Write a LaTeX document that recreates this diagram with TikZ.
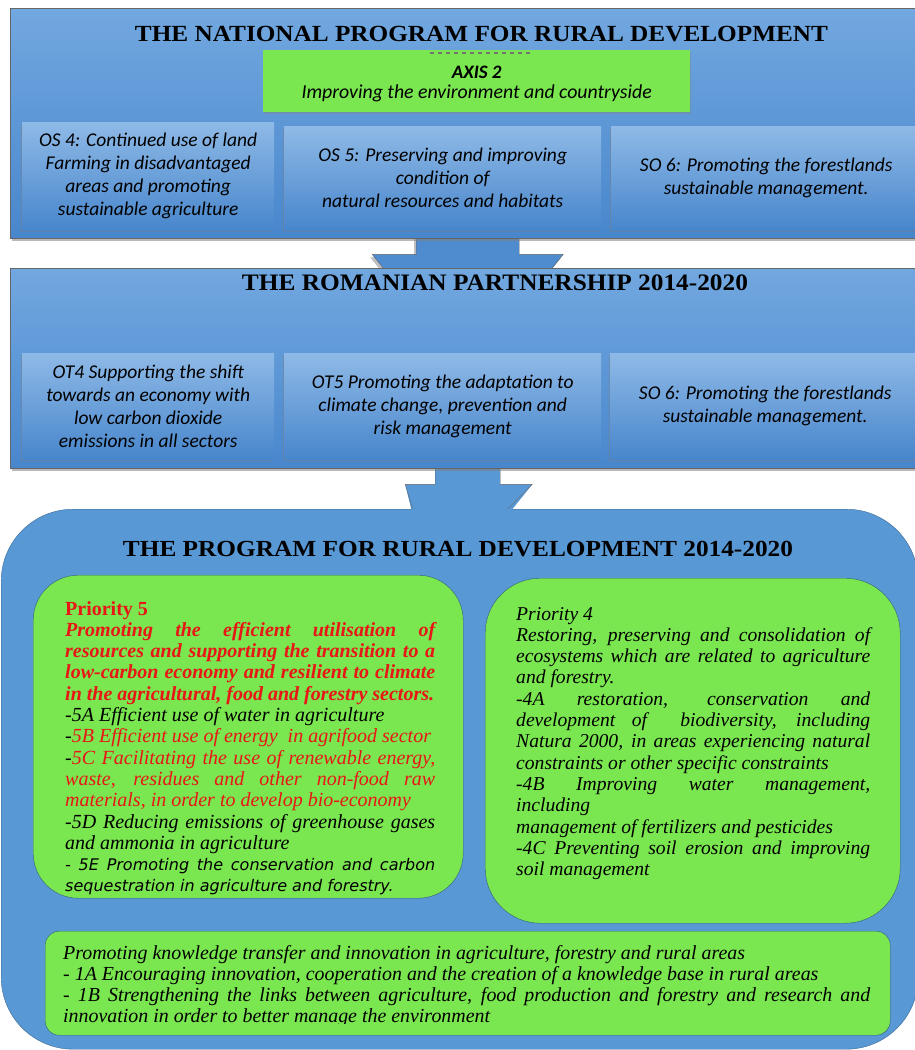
\documentclass[tikz,border=0pt]{standalone}
\usepackage{fontspec}
\setmainfont{Liberation Serif}
\newfontfamily\calfont{Carlito}
\newfontfamily\gothfont{DejaVu Sans}
\usepackage{graphicx}
\usetikzlibrary{
    positioning,
    calc,
    shadows
}
\pgfdeclarelayer{bottom}
\pgfdeclarelayer{back}
\pgfsetlayers{bottom,back,main}

\definecolor{paneltop}{RGB}{114,168,224}
\definecolor{panelbot}{RGB}{72,134,204}
\definecolor{bigblue}{RGB}{88,152,212}
\definecolor{leaf}{RGB}{122,230,80}
\definecolor{prio}{RGB}{232,22,22}

\tikzset{
    panel/.style={
        anchor=north west,
        inner sep=0pt,
        draw=black!60,
        top color=paneltop,
        bottom color=panelbot,
        drop shadow={shadow xshift=2pt, shadow yshift=-3pt, opacity=0.55}
    },
    goal/.style={
        anchor=north west,
        inner sep=2pt,
        top color=paneltop!80!white,
        bottom color=panelbot,
        drop shadow={shadow xshift=-1pt, shadow yshift=-2pt, opacity=0.45},
        font=\calfont\itshape\fontsize{19.5}{23}\selectfont,
        align=center
    },
    heading/.style={
        anchor=base,
        inner sep=0pt,
        font=\bfseries
    },
    leafbox/.style={
        anchor=north west,
        inner sep=0pt,
        fill=leaf,
        draw=bigblue!60!black
    },
    prose/.style={
        anchor=base west,
        inner sep=0pt,
        align=justify,
        font=\itshape\fontsize{20}{21.3}\selectfont
    }
}

\begin{document}
\begin{tikzpicture}[x=1pt, y=-1pt]

    \useasboundingbox (0,0) rectangle (915,1050);

    % National program
    \node[panel, minimum width=915, minimum height=230] (npr) at (10,8) {};
    \node[heading] (nprtitle) at (481.5,41)
        {\resizebox{693pt}{15.3pt}{THE NATIONAL PROGRAM FOR RURAL DEVELOPMENT}};
    \node[leafbox, draw=none, minimum width=427, minimum height=62,
          drop shadow={shadow xshift=1pt, shadow yshift=-2pt, opacity=0.4}] (axis) at (263,50) {};
    \draw[black!55, line width=1.1pt, dash pattern=on 4pt off 4pt]
        ($(axis.north)+(-47,3)$) -- ++(102,0);
    \node[font=\calfont\itshape\bfseries\fontsize{19}{22}\selectfont] (axistitle)
        at ($(axis.center)+(0,-9)$) {AXIS 2};
    \node[font=\calfont\itshape\fontsize{19.8}{22}\selectfont] (axistext)
        at ($(axis.center)+(0,12)$) {Improving the environment and countryside};

    \node[goal, minimum width=252, minimum height=108] (os4) at (22,122)
        {OS 4: Continued use of land\\Farming in disadvantaged\\areas and promoting\\sustainable agriculture};
    \node[goal, minimum width=317, minimum height=104] (os5) at (284,126)
        {OS 5: Preserving and improving\\condition of\\natural resources and habitats};
    \node[goal, minimum width=310, minimum height=104] (so6a) at (611,126)
        {SO 6: Promoting the forestlands\\sustainable management.};

    % Romanian partnership
    \node[panel, minimum width=915, minimum height=200] (rp) at (10,268) {};
    \node[heading] (rptitle) at (495,290.7)
        {\resizebox{506pt}{15.7pt}{THE ROMANIAN PARTNERSHIP 2014-2020}};

    \node[goal, minimum width=252, minimum height=106] (ot4) at (22,353)
        {OT4 Supporting the shift\\towards an economy with\\low carbon dioxide\\emissions in all sectors};
    \node[goal, minimum width=317, minimum height=106] (ot5) at (284,353)
        {OT5 Promoting the adaptation to\\climate change, prevention and\\risk management};
    \node[goal, minimum width=310, minimum height=106] (so6b) at (610,353)
        {SO 6: Promoting the forestlands\\sustainable management.};

    % Program 2014-2020
    \begin{pgfonlayer}{bottom}
        \node[anchor=north west, inner sep=0pt, fill=bigblue, draw=bigblue!70!black,
              rounded corners=72pt, minimum width=917, minimum height=540] (pdr) at (1,509) {};
    \end{pgfonlayer}
    \node[heading] (pdrtitle) at (458,556)
        {\resizebox{670pt}{15.3pt}{THE PROGRAM FOR RURAL DEVELOPMENT 2014-2020}};

    \node[leafbox, rounded corners=45pt, minimum width=430, minimum height=323] (p5) at (33,575) {};
    \node[leafbox, rounded corners=55pt, minimum width=415, minimum height=345] (p4) at (485,578) {};
    \node[leafbox, rounded corners=14pt, minimum width=845, minimum height=104] (kt) at (45,931) {};

    \begin{scope}
        \clip[rounded corners=45pt] (p5.north west) rectangle (p5.south east);
        \node[prose, text width=370] (p5text) at (65,615) {%
            {\color{prio}{\upshape\bfseries Priority 5}\par
            \bfseries Promoting the efficient utilisation of\linebreak
            resources and supporting the transition to a\linebreak
            low-carbon economy and resilient to climate\linebreak
            in the agricultural, food and forestry sectors.\par}
            -5A Efficient use of water in agriculture\par
            -{\color{prio}5B Efficient use of energy\ \ in agrifood sector}\par
            -{\color{prio}5C Facilitating the use of renewable energy,\linebreak
            waste, residues and other non-food raw\linebreak
            materials, in order to develop bio-economy}\par
            -5D Reducing emissions of greenhouse gases\linebreak
            and ammonia in agriculture\par
            {\gothfont\itshape\fontsize{16}{21.3}\selectfont
            - 5E Promoting the conservation and carbon\linebreak
            sequestration in agriculture and forestry.\par}};
    \end{scope}

    \node[prose, text width=354, font=\itshape\fontsize{19.6}{21.3}\selectfont] (p4text) at (516,620) {%
        Priority 4\par
        Restoring, preserving and consolidation of\linebreak
        ecosystems which are related to agriculture\linebreak
        and forestry.\par
        -4A restoration, conservation and\linebreak
        development of\ \ biodiversity, including\linebreak
        Natura 2000, in areas experiencing natural\linebreak
        constraints or other specific constraints\par
        -4B Improving water management,\linebreak
        including\par
        management of fertilizers and pesticides\par
        -4C Preventing soil erosion and improving\linebreak
        soil management};

    \begin{scope}
        \clip (kt.north west) rectangle ($(kt.south east)+(0,-12)$);
        \node[prose, text width=807, font=\itshape\fontsize{19.9}{21}\selectfont] (kttext) at (63,959) {%
            Promoting knowledge transfer and innovation in agriculture, forestry and rural areas\par
            - 1A Encouraging innovation, cooperation and the creation of a knowledge base in rural areas\par
            - 1B Strengthening the links between agriculture, food production and forestry and research and\linebreak
            innovation in order to better manage the environment};
    \end{scope}

    % Block arrows
    \begin{pgfonlayer}{back}
        \filldraw[fill=panelbot!85!paneltop, draw=black!60,
                  drop shadow={shadow xshift=-2pt, shadow yshift=-3pt, opacity=0.5}]
            ($(npr.south)+(-51.5,-6)$) -- ++(0,22) -- ++(-44,0)
            -- ($(rp.north)+(-79,7)$) -- ($(rp.north)+(79,7)$)
            -- ($(npr.south)+(95.5,16)$) -- ++(-44,0) -- ++(0,-22) -- cycle;
        \fill[bigblue]
            ($(rp.south)+(-32.5,-6)$) -- ++(0,22) -- ++(-30,0)
            -- ($(pdr.north)+(-47,6)$) -- ($(pdr.north)+(48,6)$)
            -- ($(rp.south)+(64.5,16)$) -- ++(-32,0) -- ++(0,-22) -- cycle;
        \draw[black!60]
            ($(pdr.north)+(-47,0)$) -- ($(rp.south)+(-62.5,16)$)
            -- ++(30,0) -- ($(rp.south)+(-32.5,0)$);
        \draw[black!60]
            ($(pdr.north)+(48,0)$) -- ($(rp.south)+(64.5,16)$)
            -- ++(-32,0) -- ($(rp.south)+(32.5,0)$);
    \end{pgfonlayer}

\end{tikzpicture}
\end{document}
